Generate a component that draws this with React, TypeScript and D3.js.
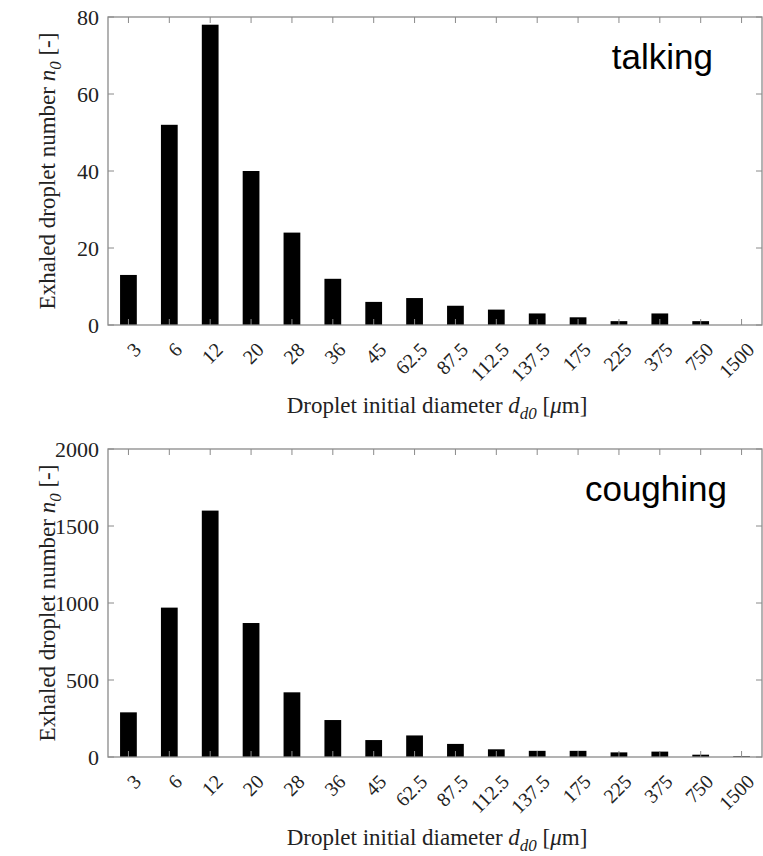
import React from "react";
import * as d3 from "d3";

// droplet size classes (µm)
const diameters = ["3", "6", "12", "20", "28", "36", "45", "62.5", "87.5", "112.5", "137.5", "175", "225", "375", "750", "1500"];

// exhaled droplet counts
const talking = [13, 52, 78, 40, 24, 12, 6, 7, 5, 4, 3, 2, 1, 3, 1, 0];
const coughing = [290, 970, 1600, 870, 420, 240, 110, 140, 85, 50, 40, 40, 30, 35, 15, 5];

const talkingTicks = [0, 20, 40, 60, 80];
const coughingTicks = [0, 500, 1000, 1500, 2000];

const W = 763;
const H = 856;
const serif = "'Liberation Serif', 'Times New Roman', serif";
const sans = "'Liberation Sans', Arial, sans-serif";
const axisColor = "#8a8a8a";

const Panel = ({ values, ticks, top, label, labelX }) => {
  const left = 108;
  const right = 762;
  const plotH = 308;
  const bottom = top + plotH;

  const x = d3.scaleBand().domain(diameters).range([left, right]).paddingInner(0.59).paddingOuter(0.295);
  const y = d3.scaleLinear().domain([0, ticks[ticks.length - 1]]).range([bottom, top]);
  const tl = 6;

  return (
    <g>
      {values.map((v, i) => (
        <rect key={i} x={x(diameters[i])} y={y(v)} width={x.bandwidth()} height={bottom - y(v)} fill="#000" />
      ))}
      {/* box */}
      <rect x={left} y={top} width={right - left} height={plotH} fill="none" stroke={axisColor} strokeWidth={1.3} />
      {/* x ticks, inward top and bottom */}
      {diameters.map((d) => {
        const cx = x(d) + x.bandwidth() / 2;
        return (
          <g key={d}>
            <line x1={cx} x2={cx} y1={bottom} y2={bottom - tl} stroke={axisColor} />
            <line x1={cx} x2={cx} y1={top} y2={top + tl} stroke={axisColor} />
            <text
              transform={`translate(${cx + 14},${bottom + 26}) rotate(-45)`}
              textAnchor="end"
              fontFamily={serif}
              fontSize={20}
              fill="#222"
            >
              {d}
            </text>
          </g>
        );
      })}
      {/* y ticks, inward left and right */}
      {ticks.map((t) => (
        <g key={t}>
          <line x1={left} x2={left + tl} y1={y(t)} y2={y(t)} stroke={axisColor} />
          <line x1={right} x2={right - tl} y1={y(t)} y2={y(t)} stroke={axisColor} />
          <text x={left - 9} y={y(t)} dy="0.35em" textAnchor="end" fontFamily={serif} fontSize={22} fill="#222">
            {t}
          </text>
        </g>
      ))}
      {/* axis titles */}
      <text x={437} y={bottom + 88} textAnchor="middle" fontFamily={serif} fontSize={23} fill="#222">
        Droplet initial diameter <tspan fontStyle="italic">d</tspan>
        <tspan fontStyle="italic" fontSize={17} dy={6}>d0</tspan>
        <tspan dy={-6}> [</tspan>
        <tspan fontStyle="italic">μ</tspan>m]
      </text>
      <text
        transform={`translate(55,${top + plotH / 2}) rotate(-90)`}
        textAnchor="middle"
        fontFamily={serif}
        fontSize={23}
        fill="#222"
      >
        Exhaled droplet number <tspan fontStyle="italic">n</tspan>
        <tspan fontStyle="italic" fontSize={17} dy={6}>0</tspan>
        <tspan dy={-6}> [-]</tspan>
      </text>
      <text x={labelX} y={top + 52} textAnchor="end" fontFamily={sans} fontSize={35} fill="#000">
        {label}
      </text>
    </g>
  );
};

export default function App() {
  return (
    <svg width={W} height={H} style={{ position: "absolute", left: 0, top: 0, background: "#fff" }}>
      <Panel values={talking} ticks={talkingTicks} top={17} label="talking" labelX={713} />
      <Panel values={coughing} ticks={coughingTicks} top={449} label="coughing" labelX={727} />
    </svg>
  );
}
